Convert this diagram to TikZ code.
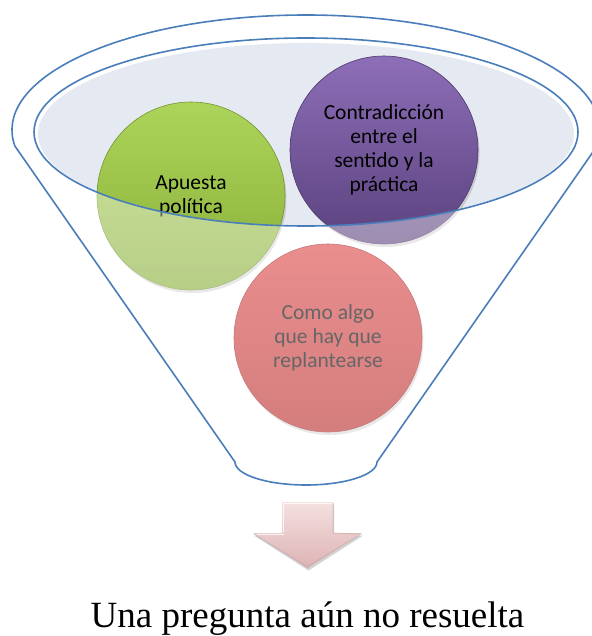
\documentclass[tikz,border=0pt]{standalone}
\usepackage{fontspec}
\setmainfont{Liberation Serif}
\newfontfamily\circfont{Carlito}
\usetikzlibrary{shadows}

\definecolor{azul}{HTML}{4A7EBB}
\definecolor{fondo}{HTML}{E5E9F2}
\definecolor{verdeA}{HTML}{ADD45A}
\definecolor{verdeB}{HTML}{88AE38}
\definecolor{moradoA}{HTML}{8D6EB8}
\definecolor{moradoB}{HTML}{5B427E}
\definecolor{rosaA}{HTML}{DC4242}
\definecolor{rosaB}{HTML}{B82828}
\definecolor{flechaA}{HTML}{F5E0E0}
\definecolor{flechaB}{HTML}{DDB3B5}

\begin{document}
\begin{tikzpicture}[x=1pt,y=-1pt,
  bola/.style={circle,minimum size=188pt,inner sep=0pt,align=center,
    font=\circfont\fontsize{21.5}{24}\selectfont,line width=0.6pt,
    drop shadow={opacity=0.3,shadow xshift=1.5pt,shadow yshift=-3pt}},
  linea/.style={draw=azul,line width=1.6pt}]
\useasboundingbox (0,0) rectangle (591,636);

\fill[fondo] (306,134) ellipse [x radius=268, y radius=91]; % elipse interior (relleno)

\node[bola,top color=verdeA,bottom color=verdeB,draw=verdeB!85!black] (apuesta) at (191,196) {Apuesta\\política}; % bola 1
\node[bola,top color=moradoA,bottom color=moradoB,draw=moradoB!85!black] (contra) at (384,150) {Contradicción\\entre el\\sentido y la\\práctica}; % bola 2
\node[bola,top color=rosaA,bottom color=rosaB,draw=rosaB!85!black] (como) at (328,338) {Como algo\\que hay que\\replantearse}; % bola 3

\fill[white,fill opacity=0.4,even odd rule] (0,0) rectangle (591,636)
  (306,132) ellipse [x radius=272, y radius=94]; % velo fuera de la boca

\draw[linea] (306,132) ellipse [x radius=272, y radius=94]; % elipse interior
\draw[linea] (306,130) ++(172:294 and 115)
  arc[start angle=172, end angle=368, x radius=294, y radius=115]
  -- (377,462) arc[start angle=0, end angle=180, x radius=71, y radius=23]
  -- cycle; % embudo

\shade[top color=flechaA,bottom color=flechaB,
  drop shadow={opacity=0.35,shadow xshift=1pt,shadow yshift=-2.5pt}]
  (282,502) -- (333,502) -- (333,533) -- (362,533) -- (307.5,568)
  -- (253,533) -- (282,533) -- cycle; % flecha
\draw[white,opacity=0.8,line width=1.2pt] (283.5,532) -- (283.5,503.5) -- (331.5,503.5); % brillo 1
\draw[white,opacity=0.8,line width=1.2pt] (257,534.5) -- (283.5,534.5); % brillo 2
\draw[flechaB!80!black,opacity=0.35,line width=1pt] (333,503) -- (333,533) -- (361,534) -- (307.5,567) -- (254,534); % sombra flecha

\node[anchor=base,font=\fontsize{37}{40}\selectfont] (pregunta) at (307.5,627) {Una pregunta aún no resuelta}; % texto final

\end{tikzpicture}
\end{document}
